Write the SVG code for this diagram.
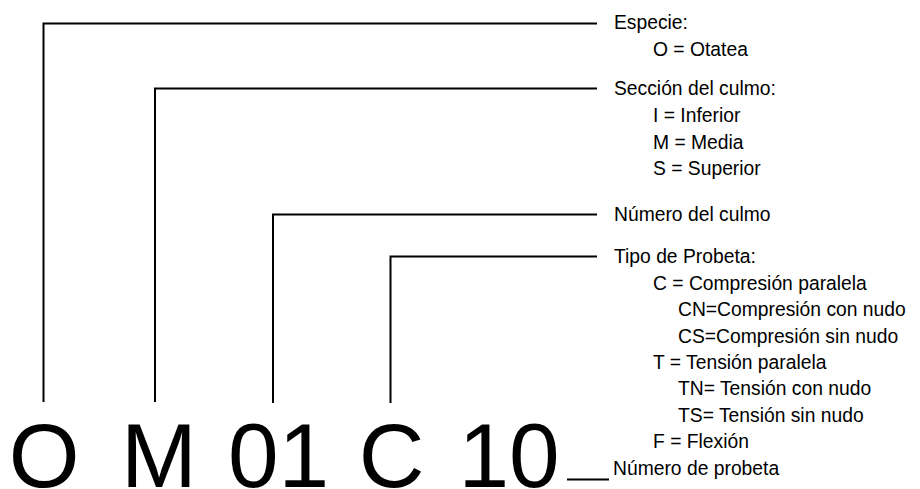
<svg xmlns="http://www.w3.org/2000/svg" width="920" height="489" viewBox="0 0 920 489">
<style>
.t{font-family:"Liberation Sans",Arial,sans-serif;font-size:19.3px;fill:#000}
.big{font-family:"Liberation Sans",Arial,sans-serif;font-size:91px;fill:#000}
.c{fill:none;stroke:#000;stroke-width:2}
</style>
<rect width="920" height="489" fill="#fff"/>
<g id="connectors">
<polyline class="c" points="43.5,402 43.5,23.5 597,23.5"/>
<polyline class="c" points="155,402 155,88.5 597,88.5"/>
<polyline class="c" points="273,403 273,214.5 597,214.5"/>
<polyline class="c" points="390.5,403 390.5,256.5 597,256.5"/>
<line class="c" x1="567" y1="479.5" x2="609" y2="479.5"/>
</g>
<g id="code">
<text class="big" x="8.8" y="487">O</text>
<text class="big" x="121" y="487">M</text>
<text class="big" x="228" y="487">01</text>
<text class="big" x="358.8" y="487">C</text>
<text class="big" x="458.5" y="487">10</text>
</g>
<g id="especie">
<text class="t" x="614" y="29">Especie:</text>
<text class="t" x="653" y="55.5">O = Otatea</text>
</g>
<g id="seccion">
<text class="t" x="614" y="95">Sección del culmo:</text>
<text class="t" x="653" y="122">I = Inferior</text>
<text class="t" x="653" y="148.5">M = Media</text>
<text class="t" x="653" y="175">S = Superior</text>
</g>
<g id="numero-culmo">
<text class="t" x="614" y="221">Número del culmo</text>
</g>
<g id="tipo">
<text class="t" x="614" y="263">Tipo de Probeta:</text>
<text class="t" x="653" y="289.5">C = Compresión paralela</text>
<text class="t" x="678" y="316">CN=Compresión con nudo</text>
<text class="t" x="678" y="342.5">CS=Compresión sin nudo</text>
<text class="t" x="653" y="369">T = Tensión paralela</text>
<text class="t" x="678" y="395">TN= Tensión con nudo</text>
<text class="t" x="678" y="421.5">TS= Tensión sin nudo</text>
<text class="t" x="653" y="448">F = Flexión</text>
</g>
<g id="numero-probeta">
<text class="t" x="613" y="474.5">Número de probeta</text>
</g>
</svg>
